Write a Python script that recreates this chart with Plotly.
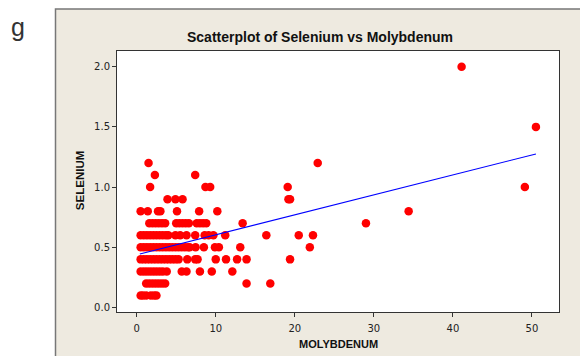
import plotly.graph_objects as go

# Molybdenum readings grouped by their selenium level
se_0_1 = [0.5, 0.8, 1.2, 1.8, 2.2, 2.5]
se_0_2 = [1.2, 1.6, 2.0, 2.4, 2.8, 3.2, 3.6, 13.9, 16.9]
se_0_3 = [0.5, 0.9, 1.3, 1.7, 2.1, 2.5, 2.9, 3.3, 3.8, 5.7, 6.3, 8.0, 9.5, 12.1]
se_0_4 = [0.5, 0.9, 1.3, 1.7, 2.1, 2.5, 2.9, 3.3, 3.7, 4.1, 4.5, 4.9, 5.3,
          6.4, 7.4, 7.7, 10.0, 11.3, 12.7, 13.9, 19.4]
se_0_5 = [0.5, 0.9, 1.3, 1.7, 2.1, 2.5, 2.9, 3.3, 3.7, 4.1, 4.5, 4.9, 5.3,
          5.7, 6.1, 6.5, 6.7, 7.45, 8.5, 9.9, 10.4, 13.1, 21.9]
se_0_6 = [0.5, 0.9, 1.3, 1.7, 2.1, 2.5, 2.9, 3.3, 3.7, 4.0, 4.9, 5.5, 6.3,
          7.4, 8.6, 9.1, 9.7, 11.2, 16.4, 20.5, 22.3]
se_0_7 = [1.6, 2.0, 2.4, 2.8, 3.2, 3.6, 5.0, 5.4, 5.8, 6.2, 6.6,
          7.6, 8.0, 8.4, 8.8, 13.4, 29.0]
se_0_8 = [0.5, 1.4, 2.7, 3.0, 5.1, 7.9, 10.2, 34.4]
se_0_9 = [3.9, 4.9, 5.8, 19.2, 19.4]
se_1_0 = [1.7, 8.7, 9.3, 19.1, 49.1]
se_1_1 = [2.3, 7.4]
se_1_2 = [1.5, 22.9]
se_1_5 = [50.5]
se_2_0 = [41.1]

selenium_levels = [0.1, 0.2, 0.3, 0.4, 0.5, 0.6, 0.7, 0.8, 0.9, 1.0, 1.1, 1.2, 1.5, 2.0]
molybdenum_groups = [se_0_1, se_0_2, se_0_3, se_0_4, se_0_5, se_0_6, se_0_7,
                     se_0_8, se_0_9, se_1_0, se_1_1, se_1_2, se_1_5, se_2_0]

# Fitted regression line end points
fit_x = [0.4, 50.5]
fit_y = [0.445, 1.275]

x_ticks = [0, 10, 20, 30, 40, 50]
y_ticks = [0.0, 0.5, 1.0, 1.5, 2.0]

molybdenum = []
selenium = []
for level, group in zip(selenium_levels, molybdenum_groups):
    molybdenum.extend(group)
    selenium.extend([level] * len(group))

W, H = 580, 356
L, R, T, B = 117, 21, 51, 44.3
pw, ph = W - L - R, H - T - B


def px_x(p):
    return (p - L) / pw


def px_y(p):
    return (H - B - p) / ph


fig = go.Figure()
fig.add_trace(go.Scatter(
    x=molybdenum, y=selenium, mode="markers",
    marker=dict(color="#ff0000", size=8.5, line=dict(width=0)),
    showlegend=False, hoverinfo="x+y",
))
fig.add_trace(go.Scatter(
    x=fit_x, y=fit_y, mode="lines",
    line=dict(color="#0000ff", width=1.1),
    showlegend=False, hoverinfo="skip",
))

# beige graph panel and white data region
fig.add_shape(type="rect", xref="paper", yref="paper", layer="below",
              x0=px_x(55.5), x1=px_x(600), y0=px_y(380), y1=px_y(9),
              fillcolor="#eeeae0", line=dict(color="#777777", width=1.5))
fig.add_shape(type="rect", xref="paper", yref="paper", layer="below",
              x0=0, x1=1, y0=0, y1=1, fillcolor="#ffffff", line=dict(width=0))

axis_common = dict(
    showgrid=False, zeroline=False, showline=True, mirror=True,
    linecolor="#333333", linewidth=1, ticks="outside", ticklen=4,
    tickcolor="#333333", tickwidth=1,
    tickfont=dict(family="DejaVu Sans", size=10, color="#222222"),
)
fig.update_xaxes(range=[-2.49, 53.42], tickvals=x_ticks, ticklabelstandoff=3, **axis_common)
fig.update_yaxes(range=[-0.037, 2.13], tickvals=y_ticks, tickformat=".1f", **axis_common)

fig.update_layout(
    width=W, height=H,
    margin=dict(l=L, r=R, t=T, b=B),
    paper_bgcolor="#ffffff", plot_bgcolor="#ffffff",
    title=dict(text="Scatterplot of Selenium vs Molybdenum",
               font=dict(family="Liberation Sans", size=14, color="#111111", weight="bold"),
               x=320 / W, xref="container", xanchor="center",
               y=1 - 37 / H, yref="container", yanchor="middle"),
    annotations=[
        dict(text="<b>MOLYBDENUM</b>", xref="paper", yref="paper",
             x=px_x(338), y=px_y(344), xanchor="center", yanchor="middle",
             showarrow=False, font=dict(family="Liberation Sans", size=11, color="#111111")),
        dict(text="<b>SELENIUM</b>", xref="paper", yref="paper",
             x=px_x(80), y=px_y(181), xanchor="center", yanchor="middle",
             textangle=-90, showarrow=False,
             font=dict(family="Liberation Sans", size=11.5, color="#111111")),
        dict(text="g", xref="paper", yref="paper",
             x=px_x(18), y=px_y(27), xanchor="center", yanchor="middle",
             showarrow=False, font=dict(family="Liberation Sans", size=25, color="#333333")),
    ],
)

fig.write_html("out.html")
